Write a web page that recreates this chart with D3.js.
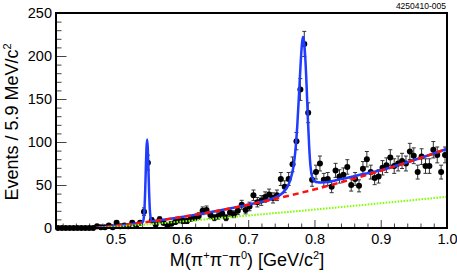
<!DOCTYPE html>
<html><head><meta charset="utf-8">
<script src="https://cdn.jsdelivr.net/npm/d3@7"></script>
<style>
body{margin:0;background:#fff}
svg{display:block}
text{font-family:"Liberation Sans",Arial,Helvetica,sans-serif;fill:#000}
</style>
</head><body>
<svg id="c" width="457" height="276"></svg>
<script>
// ---- data ----
const binStart = 0.41, binWidth = 0.0059;
const counts = [
  0,0,0,0,0,0,0,0,0,0,
  2,1,1,3,1,6,2,3,2,6,
  3,6,19,76,9,4,10,6,3,5,
  7,9,8,8,11,12,14,20,21,15,
  12,14,17,12,18,16,20,27,21,25,
  38,30,32,36,39,35,38,57,48,57,
  74,101,161,214,134,56,65,75,56,57,
  48,67,60,62,71,50,57,49,69,80,
  65,58,60,70,73,82,72,75,78,75,
  89,84,65,83,72,72,91,85,65,85
];
// total fit (blue)
const totalX = [0.47,0.48,0.49,0.50,0.51,0.52,0.53,0.5395,0.5415,0.5425,0.5435,0.5445,0.5455,0.5465,0.5475,0.5485,0.5495,0.5505,0.5515,0.5525,0.5535,0.5555,0.57,0.59,0.61,0.63,0.65,0.67,0.69,0.71,0.72,0.73,0.74,0.75,0.755,0.76,0.764,0.768,0.771,0.774,0.777,0.7795,0.7815,0.7828,0.784,0.786,0.788,0.790,0.792,0.794,0.796,0.798,0.80,0.805,0.81,0.82,0.83,0.84,0.85,0.86,0.87,0.88,0.90,0.92,0.94,0.96,0.98,1.00];
const totalY = [0,0.76,1.56,2.4,3.28,4.19,5.13,6.0,7.9,12.1,22.2,41.2,67.7,92.5,102.9,92.7,68.1,41.8,23,13.1,9.1,7.75,9.31,11.62,14.09,16.69,19.45,22.36,25.42,28.7,30.5,32.6,35.3,39.5,43.5,49,57,70,88,118,160,196,217,222,218,200,168,128,95,72,61,56.5,54.5,53.2,53,53.5,55,56.8,58.5,60.3,62.2,63.7,67.2,71.6,76.4,81.4,86.6,92];
// background (red dashed) and second background (green dotted)
const bkgX = [0.47,0.49,0.51,0.53,0.55,0.57,0.60,0.63,0.66,0.70,0.74,0.78,0.82,0.86,0.90,0.94,0.98,1.00];
const bkgY = [0,1.56,3.28,5.13,7.15,9.31,12.83,16.69,20.89,27.0,33.72,41.03,48.95,57.46,66.57,76.28,86.58,91.96];
const phspY = [0,1.0,2.1,3.2,4.3,5.6,7.6,9.6,11.7,14.5,17.3,20.0,22.9,25.8,28.8,31.8,34.8,36.3];
const xTicks = [0.5,0.6,0.7,0.8,0.9,1.0];
const xTickLabels = ["0.5","0.6","0.7","0.8","0.9","1.0"];
const yTicks = [0,50,100,150,200,250];
const yTickLabels = ["0","50","100","150","200","250"];

// ---- chart ----
const svg = d3.select("#c");
const L = 56, R = 447, T = 13, B = 228;
const x = d3.scaleLinear().domain([0.41, 1.0]).range([L, R]);
const y = d3.scaleLinear().domain([0, 250]).range([B, T]);

const tickCol = "#444";
// minor ticks
const xMinor = d3.range(0.42, 1.0001, 0.02).filter(v => !xTicks.some(t => Math.abs(t - v) < 1e-6));
const yMinor = d3.range(10, 250, 10).filter(v => v % 50 !== 0);

const gx = svg.append("g").attr("transform", `translate(0,${B})`);
gx.call(d3.axisBottom(x).tickValues(xMinor).tickSize(-4.5).tickFormat(""));
gx.append("g").call(d3.axisBottom(x).tickValues(xTicks).tickSize(-8).tickPadding(6).tickFormat((d,i) => xTickLabels[i]));
gx.selectAll(".domain").remove();
gx.selectAll("line").attr("stroke", tickCol);
gx.selectAll("text").attr("font-size", 14.5).attr("font-family", '"Liberation Sans",Arial,sans-serif').attr("fill","#000");

const gy = svg.append("g").attr("transform", `translate(${L},0)`);
gy.call(d3.axisLeft(y).tickValues(yMinor).tickSize(-5.5).tickFormat(""));
gy.append("g").call(d3.axisLeft(y).tickValues(yTicks).tickSize(-10.5).tickPadding(4).tickFormat((d,i) => yTickLabels[i]));
gy.selectAll(".domain").remove();
gy.selectAll("line").attr("stroke", tickCol);
gy.selectAll("text").attr("font-size", 14.5).attr("font-family", '"Liberation Sans",Arial,sans-serif').attr("fill","#000");

// data points
const pts = counts.map((c, i) => ({ xv: binStart + binWidth * (i + 0.5), c }));
const gp = svg.append("g");
pts.filter(d => d.c > 0).forEach(d => {
  const e = Math.sqrt(d.c);
  const cx = x(d.xv);
  gp.append("line").attr("x1", cx).attr("x2", cx).attr("y1", y(d.c + e)).attr("y2", y(Math.max(0, d.c - e)))
    .attr("stroke", "#333").attr("stroke-width", 1);
  [d.c + e, Math.max(0, d.c - e)].forEach(v => {
    gp.append("line").attr("x1", cx - 2).attr("x2", cx + 2).attr("y1", y(v)).attr("y2", y(v))
      .attr("stroke", "#333").attr("stroke-width", 1);
  });
});
gp.selectAll("circle").data(pts).enter().append("circle")
  .attr("cx", d => x(d.xv)).attr("cy", d => y(d.c)).attr("r", 3).attr("fill", "#000");

// curves
const line = d3.line().curve(d3.curveMonotoneX);
svg.append("path").attr("d", line(totalX.map((v, i) => [x(v), y(totalY[i])])))
  .attr("fill", "none").attr("stroke", "#1f3cff").attr("stroke-width", 2.5);
svg.append("path").attr("d", line(bkgX.map((v, i) => [x(v), y(bkgY[i])])))
  .attr("fill", "none").attr("stroke", "#ff1010").attr("stroke-width", 2.5).attr("stroke-dasharray", "6,4");
svg.append("path").attr("d", line(bkgX.map((v, i) => [x(v), y(phspY[i])])))
  .attr("fill", "none").attr("stroke", "#7fff00").attr("stroke-width", 2).attr("stroke-dasharray", "1.6,1.4");

// frame
svg.append("rect").attr("x", L).attr("y", T).attr("width", R - L).attr("height", B - T)
  .attr("fill", "none").attr("stroke", "#000").attr("stroke-width", 2);

// titles
svg.append("text").attr("x", 446).attr("y", 9).attr("text-anchor", "end").attr("font-size", 8.5).text("4250410-005");

const yt = svg.append("text").attr("transform", "translate(17.5,122) rotate(-90)").attr("text-anchor", "middle").attr("font-size", 18);
yt.append("tspan").text("Events / 5.9 MeV/c");
yt.append("tspan").attr("font-size", 11).attr("dy", -7).text("2");

const xt = svg.append("text").attr("x", 247).attr("y", 266).attr("text-anchor", "middle").attr("font-size", 18);
xt.append("tspan").text("M(π");
xt.append("tspan").attr("font-size", 11).attr("dy", -7).text("+");
xt.append("tspan").attr("dy", 7).text("π");
xt.append("tspan").attr("font-size", 11).attr("dy", -7).text("−");
xt.append("tspan").attr("dy", 7).text("π");
xt.append("tspan").attr("font-size", 11).attr("dy", -7).text("0");
xt.append("tspan").attr("dy", 7).text(") [GeV/c");
xt.append("tspan").attr("font-size", 11).attr("dy", -7).text("2");
xt.append("tspan").attr("dy", 7).text("]");
</script>
</body></html>
